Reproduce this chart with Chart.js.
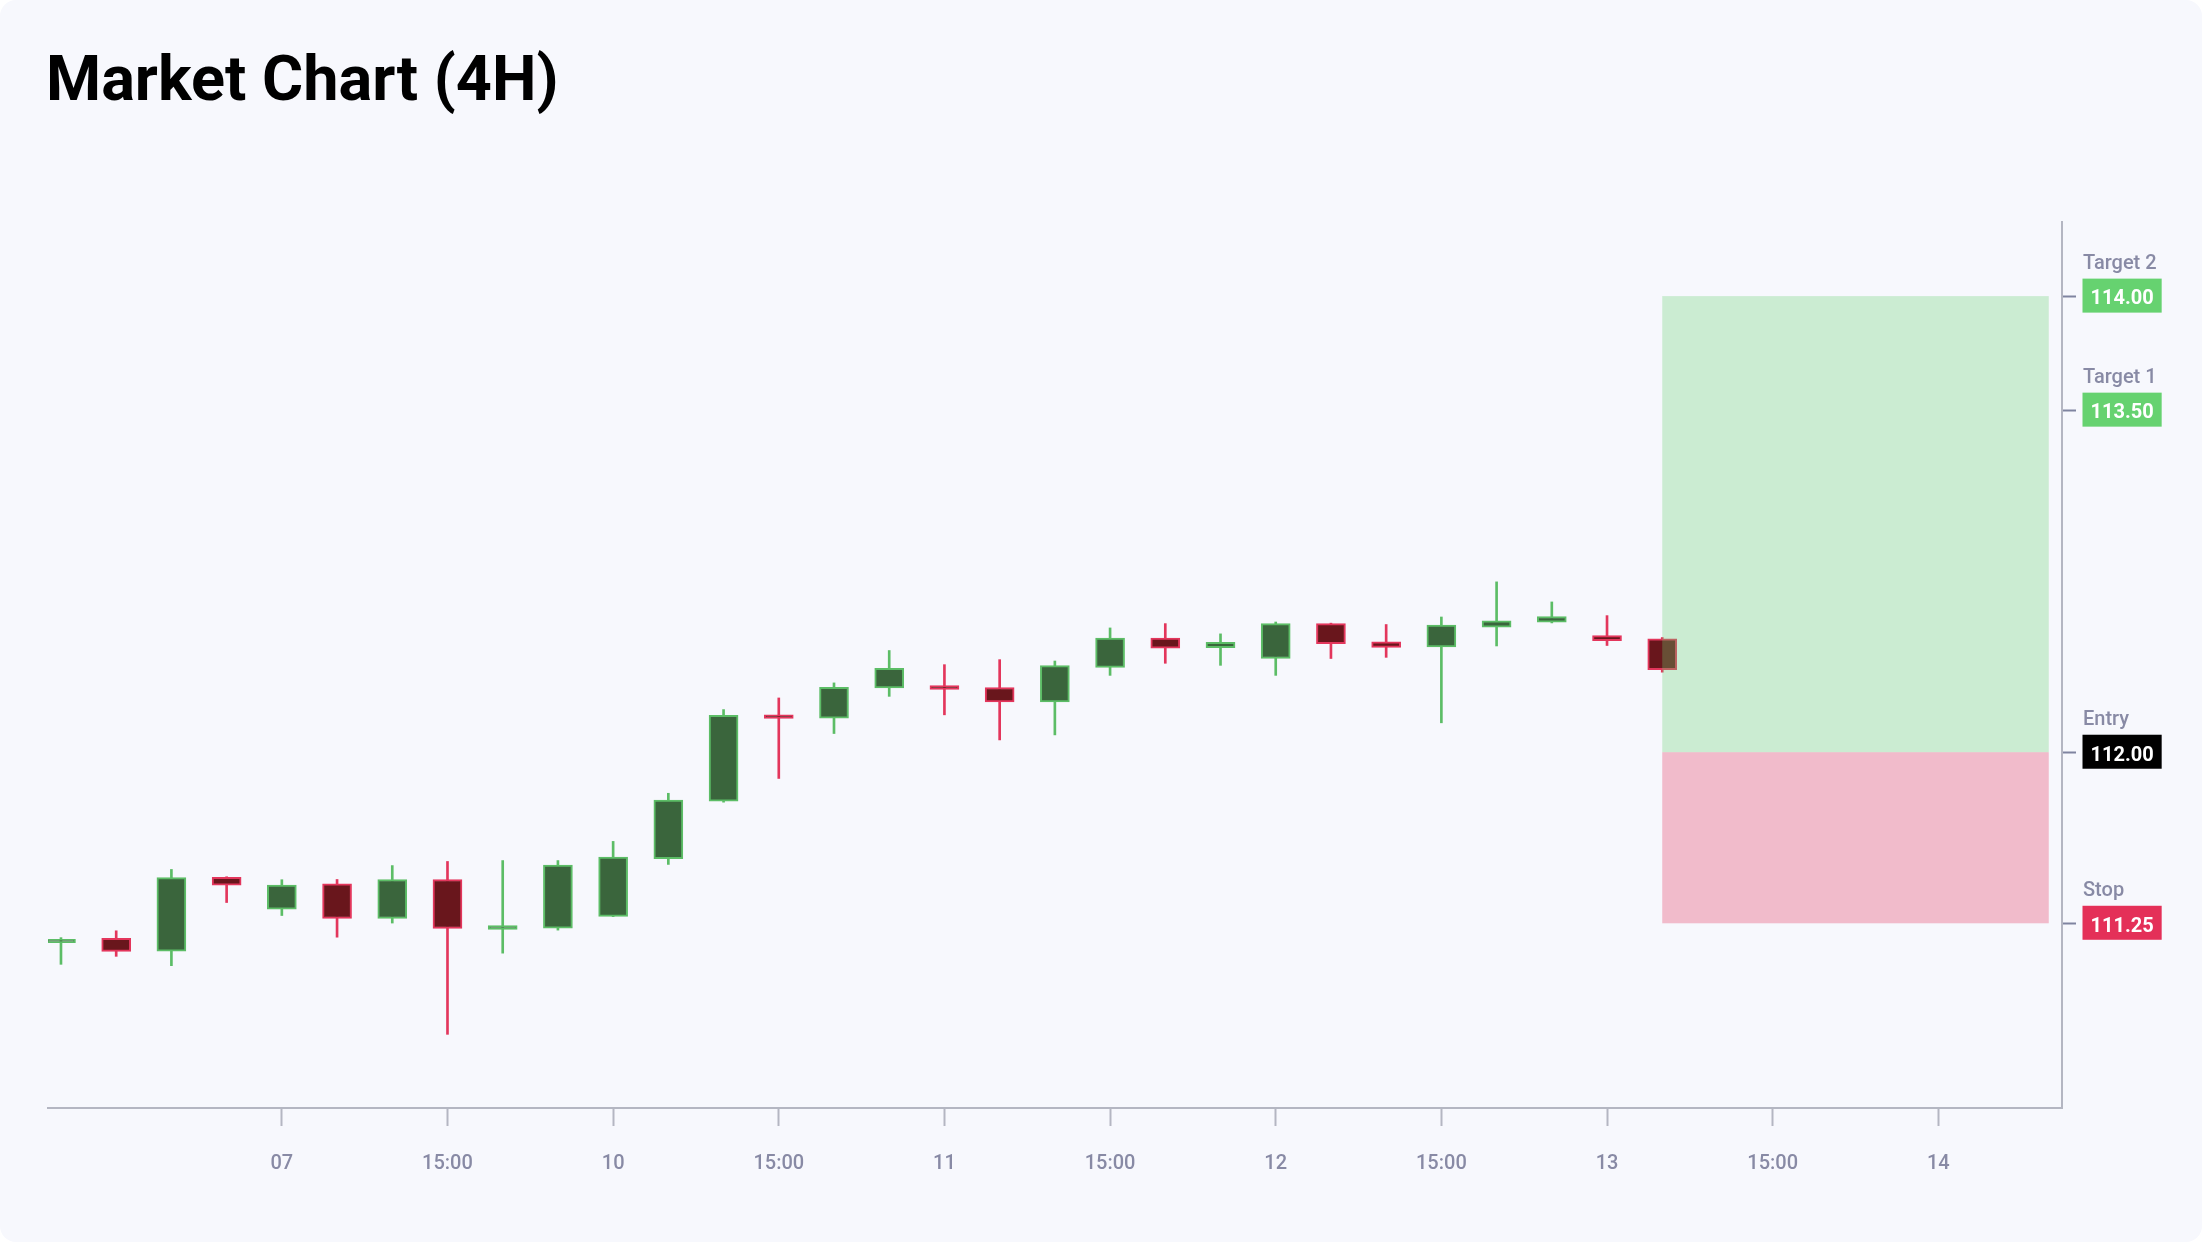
<!DOCTYPE html>
<html>
<head>
<meta charset="utf-8">
<script src="https://cdn.jsdelivr.net/npm/chart.js@4.4.1/dist/chart.umd.min.js"></script>
<style>
html,body{margin:0;padding:0;background:#ffffff;width:2202px;height:1242px;overflow:hidden;}
.card{position:absolute;left:0;top:0;width:2202px;height:1242px;background:#f7f8fd;border-radius:16px;}
h1{position:absolute;left:46px;top:47px;margin:0;font:700 63px/63px Roboto, sans-serif;color:#000;white-space:nowrap;}
canvas{position:absolute;left:0;top:0;}
</style>
</head>
<body>
<div class="card"></div>
<h1>Market Chart (4H)</h1>
<canvas id="c" width="2202" height="1242" style="width:2202px;height:1242px"></canvas>
<script>
// ---- data ----
const candleIndex = [0,1,2,3,4,5,6,7,8,9,10,11,12,13,14,15,16,17,18,19,20,21,22,23,24,25,26,27,28,29];
const openValues  = [111.165,111.184,111.128,111.451,111.312,111.423,111.271,111.442,111.223,111.229,111.280,111.533,111.785,112.164,112.149,112.282,112.292,112.284,112.221,112.372,112.501,112.458,112.411,112.564,112.484,112.462,112.548,112.570,112.511,112.497];
const highValues  = [111.187,111.217,111.486,111.454,111.441,111.442,111.503,111.521,111.525,111.525,111.609,111.820,112.187,112.238,112.304,112.446,112.384,112.406,112.400,112.545,112.564,112.519,112.571,112.566,112.560,112.593,112.747,112.659,112.599,112.503];
const lowValues   = [111.070,111.105,111.064,111.341,111.284,111.189,111.251,110.763,111.119,111.220,111.279,111.508,111.781,111.885,112.082,112.245,112.164,112.054,112.076,112.337,112.390,112.381,112.337,112.411,112.416,112.129,112.466,112.567,112.468,112.351];
const closeValues = [111.180,111.127,111.450,111.417,111.417,111.271,111.442,111.227,111.240,111.505,111.540,111.790,112.162,112.148,112.285,112.368,112.275,112.221,112.380,112.501,112.456,112.482,112.564,112.476,112.460,112.557,112.576,112.595,112.489,112.362];

const tickIndex  = [4,7,10,13,16,19,22,25,28,31,34];
const tickLabels = ['07','15:00','10','15:00','11','15:00','12','15:00','13','15:00','14'];

const levelNames  = ['Target 2','Target 1','Entry','Stop'];
const levelValues = [114.00, 113.50, 112.00, 111.25];

const zoneStart = 29;
const zoneEnd   = 36;

const xMin = -0.235, xMax = 36.24;
const yMin = 110.44, yMax = 114.325;

// ---- styles ----
const STYLE = {
  upFill: '#3a653c', upBorder: '#5cbd66',
  downFill: '#69161c', downBorder: '#e3365c',
  axis: '#b4b6c2', xTick: '#b4b6c2', yTick: '#7f84a0',
  label: '#888aa5',
  levelBox: {'Target 2':'#66d270','Target 1':'#66d270','Entry':'#000000','Stop':'#e43058'},
  profitZone: 'rgba(102,210,112,0.3)',
  lossZone: 'rgba(228,48,88,0.3)'
};

const isUp = candleIndex.map(i => closeValues[i] >= openValues[i]);

const levelPlugin = {
  id: 'levels',
  afterDatasetsDraw(chart) {
    const {ctx, scales: {x, y}} = chart;
    const entry = levelValues[levelNames.indexOf('Entry')];
    const stop = levelValues[levelNames.indexOf('Stop')];
    const target = levelValues[levelNames.indexOf('Target 2')];
    const x0 = x.getPixelForValue(zoneStart), x1 = x.getPixelForValue(zoneEnd);
    const yT = y.getPixelForValue(target), yE = y.getPixelForValue(entry), yS = y.getPixelForValue(stop);
    ctx.save();
    ctx.fillStyle = STYLE.profitZone;
    ctx.fillRect(x0, yT, x1 - x0, yE - yT);
    ctx.fillStyle = STYLE.lossZone;
    ctx.fillRect(x0, yE, x1 - x0, yS - yE);
    ctx.restore();
  },
  afterDraw(chart) {
    const {ctx, chartArea, scales: {y}} = chart;
    const bx = chartArea.right + 20.5;
    ctx.save();
    levelValues.forEach((v, i) => {
      const py = y.getPixelForValue(v);
      const txt = v.toFixed(2);
      ctx.font = '700 20px Roboto, sans-serif';
      const w = ctx.measureText(txt).width + 16;
      ctx.fillStyle = STYLE.levelBox[levelNames[i]];
      ctx.fillRect(bx, py - 17.5, w, 34);
      ctx.fillStyle = '#ffffff';
      ctx.textAlign = 'left';
      ctx.textBaseline = 'alphabetic';
      ctx.fillText(txt, bx + 8, py + 8.3);
      ctx.font = '500 20px Roboto, sans-serif';
      ctx.fillStyle = STYLE.label;
      ctx.fillText(levelNames[i], bx + 0.5, py - 27.5);
    });
    ctx.restore();
  }
};

new Chart(document.getElementById('c'), {
  type: 'bar',
  data: {
    datasets: [
      {
        label: 'wick',
        data: candleIndex.map(i => ({x: i, y: [lowValues[i], highValues[i]]})),
        backgroundColor: candleIndex.map(i => isUp[i] ? STYLE.upBorder : STYLE.downBorder),
        borderWidth: 0,
        barThickness: 2,
        grouped: false,
        order: 2
      },
      {
        label: 'body',
        data: candleIndex.map(i => ({x: i, y: [openValues[i], closeValues[i]]})),
        backgroundColor: candleIndex.map(i => isUp[i] ? STYLE.upFill : STYLE.downFill),
        borderColor: candleIndex.map(i => isUp[i] ? STYLE.upBorder : STYLE.downBorder),
        borderWidth: 2,
        borderSkipped: false,
        barThickness: 29,
        grouped: false,
        order: 1
      }
    ]
  },
  options: {
    responsive: false,
    animation: false,
    events: [],
    layout: {padding: {left: 48, top: 222, right: 126, bottom: 40}},
    plugins: {legend: {display: false}, tooltip: {enabled: false}, title: {display: false}},
    scales: {
      x: {
        type: 'linear',
        min: xMin, max: xMax,
        offset: false,
        afterBuildTicks: (axis) => { axis.ticks = tickIndex.map(v => ({value: v})); },
        ticks: {
          autoSkip: false, maxRotation: 0, padding: 26,
          color: STYLE.label,
          font: {family: 'Roboto', size: 20, weight: '500'},
          callback: (value, index) => tickLabels[index]
        },
        grid: {display: true, drawOnChartArea: false, drawTicks: true, tickLength: 18, tickColor: STYLE.xTick, tickWidth: 2, offset: false},
        border: {display: true, color: STYLE.axis, width: 2}
      },
      y: {
        type: 'linear',
        position: 'right',
        min: yMin, max: yMax,
        afterBuildTicks: (axis) => { axis.ticks = levelValues.map(v => ({value: v})); },
        ticks: {display: false},
        grid: {display: true, drawOnChartArea: false, drawTicks: true, tickLength: 14, tickColor: STYLE.yTick, tickWidth: 2},
        border: {display: true, color: STYLE.axis, width: 2}
      }
    }
  },
  plugins: [levelPlugin]
});
</script>
</body>
</html>
